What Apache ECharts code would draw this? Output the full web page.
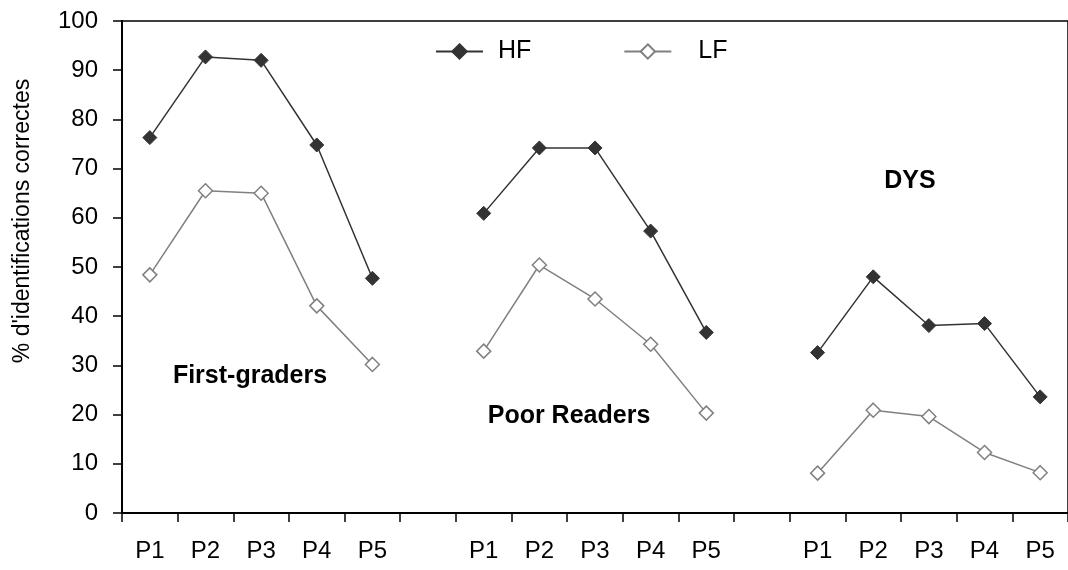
<!DOCTYPE html>
<html>
<head>
<meta charset="utf-8">
<script src="https://cdn.jsdelivr.net/npm/echarts@6/dist/echarts.min.js"></script>
<style>html,body{margin:0;padding:0;background:#fff;}#chart{width:1068px;height:570px;}</style>
</head>
<body>
<div id="chart"></div>
<script>
// Categories: three groups of P1..P5 separated by an empty slot
const groupCats = ['P1', 'P2', 'P3', 'P4', 'P5'];
const groupNames = ['First-graders', 'Poor Readers', 'DYS'];
const yTicks = [0, 10, 20, 30, 40, 50, 60, 70, 80, 90, 100];

// Values (% correct identifications)
const firstGradersHF = [76.3, 92.7, 92.0, 74.8, 47.7];
const firstGradersLF = [48.4, 65.5, 65.0, 42.1, 30.2];
const poorReadersHF  = [60.9, 74.2, 74.2, 57.3, 36.7];
const poorReadersLF  = [32.9, 50.4, 43.5, 34.3, 20.3];
const dysHF          = [32.6, 48.0, 38.1, 38.5, 23.6];
const dysLF          = [8.1, 20.9, 19.6, 12.3, 8.2];

const categories = [].concat(groupCats, [''], groupCats, [''], groupCats);
const hfData = [].concat(firstGradersHF, [null], poorReadersHF, [null], dysHF);
const lfData = [].concat(firstGradersLF, [null], poorReadersLF, [null], dysLF);

const FONT = "'Liberation Sans', Arial, Helvetica, sans-serif";
const chart = echarts.init(document.getElementById('chart'));

chart.setOption({
  backgroundColor: '#fff',
  animation: false,
  grid: {
    left: 122, right: -4, top: 21, bottom: 57,
    show: true, borderColor: '#000', borderWidth: 1.5, backgroundColor: 'transparent'
  },
  legend: {
    data: [
      { name: 'HF', textStyle: { padding: [0, 0, 0, 10] } },
      { name: 'LF', textStyle: { padding: [0, 0, 0, 22] } }
    ],
    left: 430, top: 34,
    itemWidth: 47, itemHeight: 18, itemGap: 92,
    textStyle: { fontFamily: FONT, fontSize: 25, color: '#000' }
  },
  xAxis: {
    type: 'category',
    data: categories,
    boundaryGap: true,
    axisLine: { show: true, lineStyle: { color: '#000', width: 2 } },
    axisTick: { show: true, inside: false, length: 9, interval: 0, alignWithLabel: false, lineStyle: { color: '#000', width: 1.5 } },
    axisLabel: { interval: 0, margin: 26, fontFamily: FONT, fontSize: 24, color: '#000' },
    splitLine: { show: false }
  },
  yAxis: {
    type: 'value',
    min: yTicks[0], max: yTicks[yTicks.length - 1], interval: 10,
    name: "% d'identifications correctes",
    nameLocation: 'middle',
    nameGap: 88,
    nameRotate: 90,
    nameTextStyle: { fontFamily: FONT, fontSize: 23, color: '#000', padding: [0, 0, 0, 92] },
    axisLine: { show: true, lineStyle: { color: '#000', width: 2 } },
    axisTick: { show: true, inside: false, length: 9, lineStyle: { color: '#000', width: 1.5 } },
    axisLabel: { margin: 24, fontFamily: FONT, fontSize: 24, color: '#000' },
    splitLine: { show: false }
  },
  series: [
    {
      name: 'HF', type: 'line', data: hfData, connectNulls: false,
      symbol: 'diamond', symbolSize: 14, showSymbol: true,
      lineStyle: { color: '#333333', width: 1.5 },
      itemStyle: { color: '#333333', borderColor: '#333333', borderWidth: 1 },
      z: 3
    },
    {
      name: 'LF', type: 'line', data: lfData, connectNulls: false,
      symbol: 'diamond', symbolSize: 14, showSymbol: true,
      lineStyle: { color: '#808080', width: 1.5 },
      itemStyle: { color: '#ffffff', borderColor: '#808080', borderWidth: 1.5 },
      z: 2
    }
  ],
  graphic: [
    { type: 'text', x: 250, y: 376, style: { text: groupNames[0], font: "bold 25px " + FONT, fill: '#000', align: 'center', verticalAlign: 'middle' } },
    { type: 'text', x: 569, y: 416, style: { text: groupNames[1], font: "bold 25px " + FONT, fill: '#000', align: 'center', verticalAlign: 'middle' } },
    { type: 'text', x: 910, y: 181, style: { text: groupNames[2], font: "bold 25px " + FONT, fill: '#000', align: 'center', verticalAlign: 'middle' } }
  ]
});
</script>
</body>
</html>
